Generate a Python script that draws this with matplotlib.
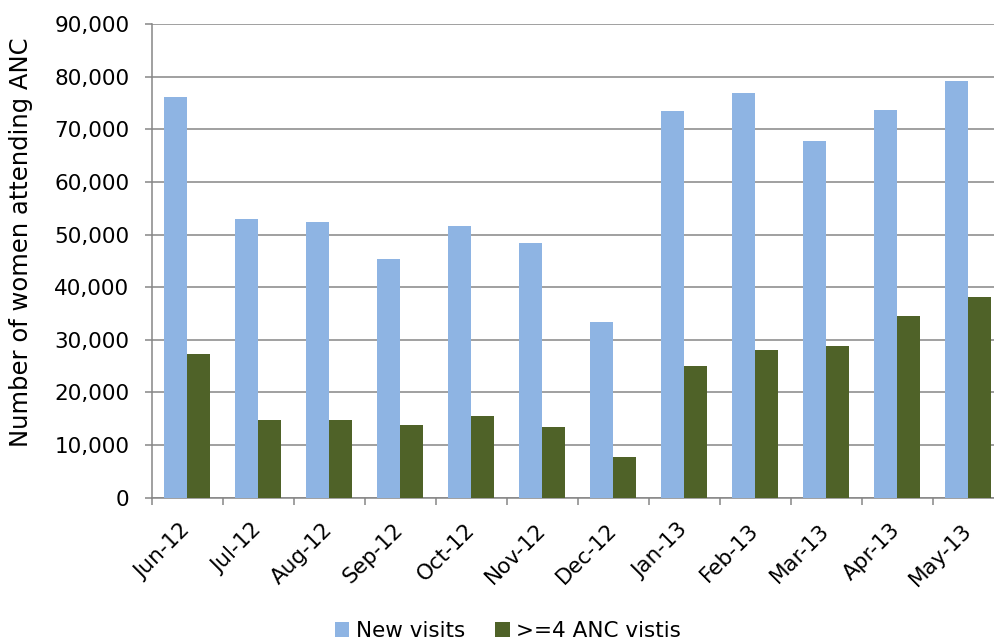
import matplotlib
matplotlib.use("Agg")
import matplotlib.pyplot as plt
import numpy as np
from matplotlib.ticker import FuncFormatter, FixedLocator

months = ["Jun-12", "Jul-12", "Aug-12", "Sep-12", "Oct-12", "Nov-12",
          "Dec-12", "Jan-13", "Feb-13", "Mar-13", "Apr-13", "May-13"]
new_visits = [76200, 53000, 52300, 45300, 51600, 48300,
              33400, 73500, 76800, 67700, 73700, 79200]
anc4_visits = [27300, 14700, 14800, 13900, 15600, 13400,
               7800, 25100, 28100, 28800, 34500, 38100]
series_names = ["New visits", ">=4 ANC vistis"]
y_ticks = list(range(0, 90001, 10000))

plt.rcParams["font.family"] = ["DejaVu Sans"]
BLUE = "#8EB4E3"
GREEN = "#4F6228"
GRID = "#868686"

fig = plt.figure(figsize=(9.94, 6.41), dpi=100)
ax = fig.add_axes([151.7 / 994, 1 - 497.7 / 641, 852 / 994, (497.7 - 24) / 641])

x = np.arange(len(months))
w = 0.328
ax.bar(x - w / 2, new_visits, width=w, color=BLUE, label=series_names[0], zorder=3)
ax.bar(x + w / 2, anc4_visits, width=w, color=GREEN, label=series_names[1], zorder=3)

ax.set_xlim(-0.5, len(months) - 0.5)
ax.set_ylim(0, 90000)
ax.set_yticks(y_ticks)
ax.yaxis.set_major_formatter(FuncFormatter(lambda v, p: f"{int(v):,}"))
ax.yaxis.grid(True, color=GRID, linewidth=1.1, zorder=0)
ax.set_axisbelow(True)

for s in ["top", "right"]:
    ax.spines[s].set_visible(False)
for s in ["left", "bottom"]:
    ax.spines[s].set_color(GRID)
    ax.spines[s].set_linewidth(1.1)

ax.tick_params(axis="y", direction="out", length=5, width=1.1, color=GRID,
               pad=11, labelsize=15.5)

# category labels at centres, tick marks at category boundaries
ax.set_xticks(x)
ax.set_xticklabels(months, rotation=45, ha="right", va="center",
                   rotation_mode="anchor", fontsize=15.5)
ax.tick_params(axis="x", which="major", length=0, pad=21)
ax.xaxis.set_minor_locator(FixedLocator(np.arange(-0.5, len(months), 1.0)))
ax.tick_params(axis="x", which="minor", direction="out", length=5, width=1.1, color=GRID)

ax.set_ylabel("Number of women attending ANC", fontsize=17.5)
ax.yaxis.set_label_coords(-119 / 852, 0.54)

fig.legend(loc="center", bbox_to_anchor=(508 / 994, 1 - 631 / 641),
           ncol=2, frameon=False, fontsize=15.5, handlelength=0.67,
           handleheight=0.67, handletextpad=0.3, columnspacing=1.4,
           borderpad=0, borderaxespad=0)

fig.savefig("out.png", dpi=100)
